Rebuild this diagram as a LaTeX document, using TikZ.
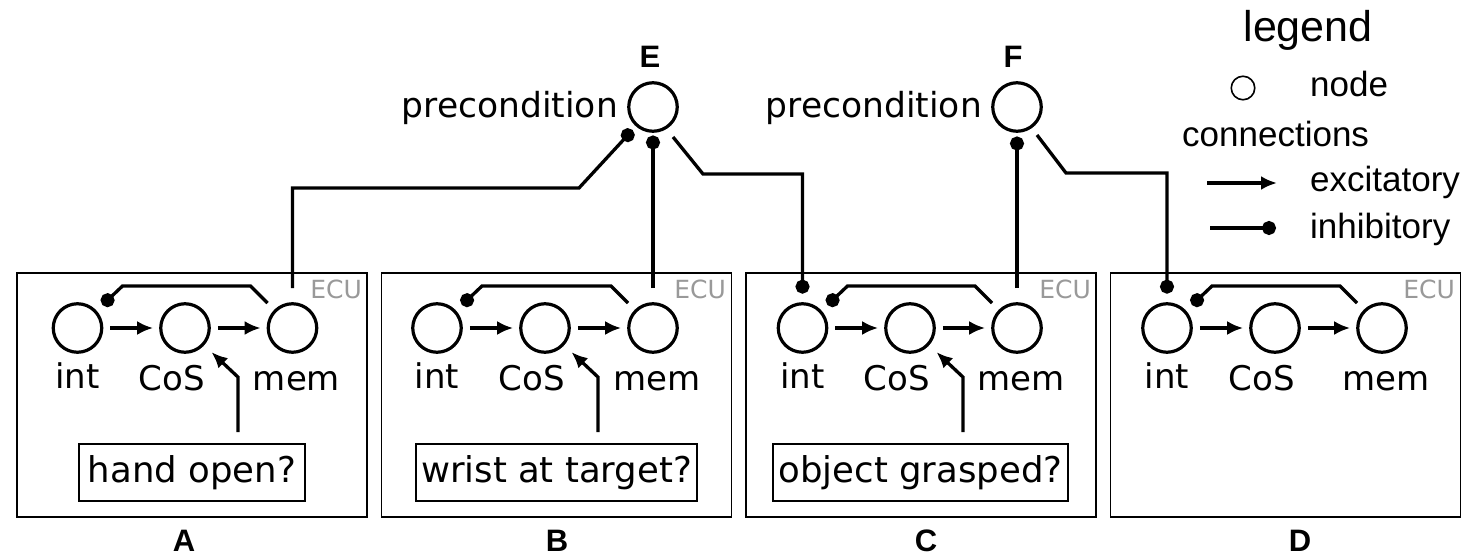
\documentclass[tikz,border=0pt]{standalone}
\usepackage{fontspec}
\setmainfont{DejaVu Sans}
\newfontfamily\legendfont{Liberation Sans}
\usetikzlibrary{arrows.meta,calc}

\definecolor{ecugray}{HTML}{999999}

\tikzset{
  neuron/.style={circle, draw, line width=3.2pt, minimum size=48.5pt, inner sep=0pt},
  ecuframe/.style={draw, line width=1.8pt, minimum width=350pt, minimum height=244pt, inner sep=0pt},
  sensorbox/.style={draw, line width=1.8pt, minimum height=57pt, inner xsep=3pt, inner ysep=0pt,
    font=\fontsize{35.5}{40}\selectfont},
  lbl/.style={font=\fontsize{34}{38}\selectfont, anchor=base, inner sep=0pt},
  ecutag/.style={font=\fontsize{25}{28}\selectfont, text=ecugray, anchor=base east, inner sep=0pt},
  panel/.style={font=\legendfont\bfseries\fontsize{31}{34}\selectfont, anchor=base, inner sep=0pt},
  legtext/.style={font=\legendfont\fontsize{35}{40}\selectfont, anchor=base west, inner sep=0pt},
  conn/.style={line width=3.3pt},
  exc/.style={conn, -{Latex[length=16pt,width=14pt]}},
  inh/.style={conn, -{Circle[length=14pt]}},
}

% one execution control unit: frame, three nodes, their labels and inner wiring
% #1 name, #2 left, #3 right, #4 int x, #5 CoS x, #6 mem x
\newcommand\ecuunit[6]{%
  \node[ecuframe] (#1) at ({(#2+#3)/2},395) {};
  \node[neuron] (#1-int) at (#4,328) {};
  \node[neuron] (#1-cos) at (#5,328) {};
  \node[neuron] (#1-mem) at (#6,328) {};
  \node[lbl] (#1-intlbl) at (#4,388) {int};
  \node[lbl] (#1-coslbl) at ({#5-13},390) {CoS};
  \node[lbl] (#1-memlbl) at ({#6+4},390) {mem};
  \node[ecutag] (#1-tag) at ({#3-5},298) {ECU};
  \draw[exc, shorten <=7pt, shorten >=6pt] (#1-int) -- (#1-cos);
  \draw[exc, shorten <=7pt, shorten >=6pt] (#1-cos) -- (#1-mem);
  \draw[inh] ($(#1-mem)+(-25,-25)$) -- ($(#1-mem)+(-42,-42)$)
    -- ($(#1-int)+(45,-42)$) -- ($(#1-int)+(25,-23)$);
}

% condition sensor feeding the CoS node
\newcommand\sensorfeed[1]{%
  \draw[exc, shorten >=10pt] ($(#1-sen.north -| #1-cos)+(53,-11)$) -- ++(0,-55) -- (#1-cos.-42);
}

\begin{document}
\begin{tikzpicture}[x=1pt, y=-1pt]
\useasboundingbox (0,0) rectangle (1480,556);

% execution control units
\ecuunit{A}{17}{367}{77.5}{185}{292.5}
\ecuunit{B}{382}{731}{437}{545}{653}
\ecuunit{C}{746}{1096}{802.5}{910}{1017}
\ecuunit{D}{1111}{1460}{1167}{1275}{1382}

\node[panel] (A-name) at (184,551) {A};
\node[panel] (B-name) at (557,551) {B};
\node[panel] (C-name) at (926,551) {C};
\node[panel] (D-name) at (1300,551) {D};

% sensors
\node[sensorbox, minimum width=226pt] (A-sen) at (192,472.5) {hand open?};
\node[sensorbox, minimum width=281pt] (B-sen) at (556.5,472.5) {wrist at target?};
\node[sensorbox, minimum width=295pt] (C-sen) at (920.5,472.5) {object grasped?};
\sensorfeed{A}
\sensorfeed{B}
\sensorfeed{C}

% precondition nodes
\node[neuron] (E) at (653,107) {};
\node[neuron] (F) at (1017,107) {};
\node[panel] (E-name) at (650,68) {E};
\node[panel] (F-name) at (1013,68) {F};
\node[lbl, font=\fontsize{34.5}{40}\selectfont, anchor=base east] (E-lbl) at (618,118) {precondition};
\node[lbl, font=\fontsize{34.5}{40}\selectfont, anchor=base east] (F-lbl) at (982,118) {precondition};

% precondition wiring
\draw[inh] ([yshift=14pt]A-mem.north) |- ($(E)+(-74,81)$) -- ($(E)+(-20.5,23)$);
\draw[inh] ([yshift=14pt]B-mem.north) -- ($(E)+(0,28.5)$);
\draw[inh] ($(E)+(20,30)$) -- ($(E)+(50,67)$) -| ([yshift=8.5pt]C-int.north);
\draw[inh] ([yshift=14pt]C-mem.north) -- ($(F)+(0,29.5)$);
\draw[inh] ($(F)+(20,28)$) -- ($(F)+(49,66)$) -| ([yshift=8.5pt]D-int.north);

% legend
\node[legtext, font=\legendfont\fontsize{43}{48}\selectfont, anchor=base] (leg-title) at (1308,42) {legend};
\node[circle, draw, line width=1.6pt, minimum size=23.5pt, inner sep=0pt] (leg-node) at (1243,88) {};
\node[legtext] (leg-nodetxt) at (1310,97) {node};
\node[legtext] (leg-conn) at (1182,147) {connections};
\coordinate (leg-e0) at (1207,183);
\coordinate (leg-e1) at (1277,183);
\draw[exc] (leg-e0) -- (leg-e1);
\node[legtext] (leg-exc) at (1310,192) {excitatory};
\coordinate (leg-i0) at (1210,228);
\coordinate (leg-i1) at (1276,228);
\draw[inh] (leg-i0) -- (leg-i1);
\node[legtext] (leg-inh) at (1310,238) {inhibitory};
\end{tikzpicture}
\end{document}
